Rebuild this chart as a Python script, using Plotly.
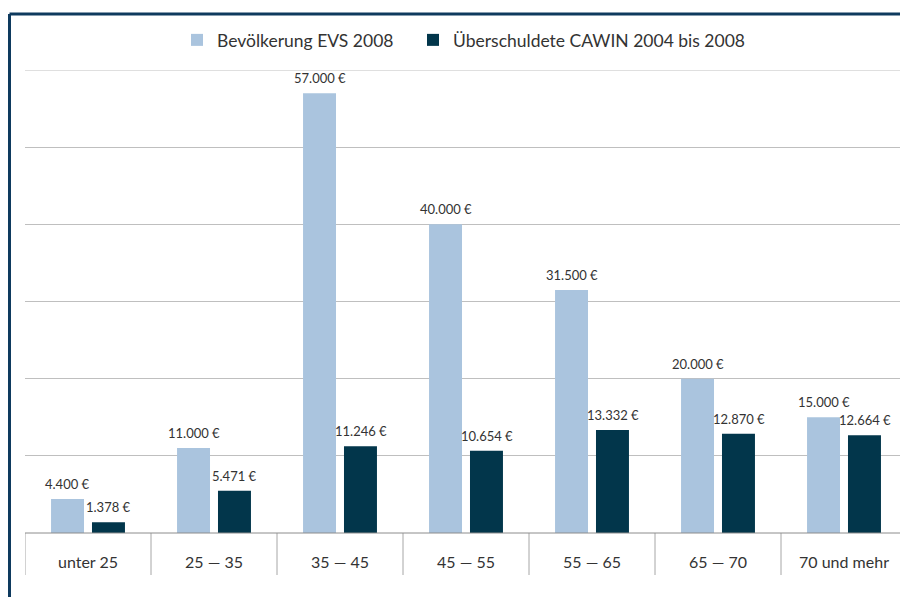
import plotly.graph_objects as go

categories = ["unter 25", "25 — 35", "35 — 45", "45 — 55", "55 — 65", "65 — 70", "70 und mehr"]
bevoelkerung = [4400, 11000, 57000, 40000, 31500, 20000, 15000]
ueberschuldete = [1378, 5471, 11246, 10654, 13332, 12870, 12664]
series_names = ["Bevölkerung EVS 2008", "Überschuldete CAWIN 2004 bis 2008"]


def fmt(v):
    return f"{v:,}".replace(",", ".") + " €"


LIGHT = "#aac4de"
DARK = "#02364b"
FONT = "Lato"

fig = go.Figure()
fig.add_trace(go.Bar(
    x=categories, y=bevoelkerung, name=series_names[0],
    marker=dict(color=LIGHT, line=dict(width=0)), legend="legend",
))
fig.add_trace(go.Bar(
    x=categories, y=ueberschuldete, name=series_names[1],
    marker=dict(color=DARK, line=dict(width=0)), legend="legend2",
))

# page has an 8px body margin, so work in screen pixels minus offset
O = 8
W, H = 908, 597
PL, PR, PT, PB = 25, 907, 70, 533  # plot area in screen pixels
L, R, T, B = PL - O, W - (PR - O), PT - O, H - (PB - O)
pw, ph = W - L - R, H - T - B


def px_x(p):
    return (p - O - L) / pw


def px_y(p):
    return (PB - p) / ph


annotations = []
for vals, shift in ((bevoelkerung, -20.5), (ueberschuldete, 20.5)):
    for c, v in zip(categories, vals):
        annotations.append(dict(x=c, y=v, xref="x", yref="y", text=fmt(v),
                                showarrow=False, xshift=shift, yshift=5,
                                yanchor="bottom", xanchor="center",
                                font=dict(size=13, color="#333333", family=FONT)))

shapes = []
# outer frame (top and left edges visible)
shapes.append(dict(type="line", xref="paper", yref="paper",
                   x0=px_x(9.5), x1=px_x(930), y0=px_y(14), y1=px_y(14),
                   line=dict(color="#0e3a5e", width=3)))
shapes.append(dict(type="line", xref="paper", yref="paper",
                   x0=px_x(9.5), x1=px_x(9.5), y0=px_y(14), y1=px_y(620),
                   line=dict(color="#0e3a5e", width=3)))
# top gridline (at range edge)
shapes.append(dict(type="line", xref="paper", yref="y",
                   x0=0, x1=1, y0=60000, y1=60000,
                   line=dict(color="#bfbfbf", width=1)))
# category cell separators
for i in range(len(categories) + 1):
    shapes.append(dict(type="line", xref="x", yref="paper",
                       x0=i - 0.5, x1=i - 0.5, y0=0, y1=px_y(575),
                       line=dict(color="#a6a6a6", width=1)))
# baseline
shapes.append(dict(type="line", xref="paper", yref="paper",
                   x0=0, x1=1, y0=0, y1=0,
                   line=dict(color="#8c8c8c", width=1)))

legend_common = dict(orientation="h", xanchor="left", y=px_y(40), yanchor="middle",
                     font=dict(size=17.5, color="#333333", family=FONT),
                     bgcolor="rgba(0,0,0,0)")

fig.update_layout(
    width=W, height=H,
    margin=dict(l=L, r=R, t=T, b=B, pad=0, autoexpand=False),
    paper_bgcolor="white", plot_bgcolor="white",
    barmode="group", bargap=0.35, bargroupgap=0.195,
    font=dict(family=FONT, color="#333333"),
    showlegend=True,
    legend=dict(x=px_x(177), **legend_common),
    legend2=dict(x=px_x(413), **legend_common),
    xaxis=dict(showgrid=False, showline=False, zeroline=False, ticks="",
               tickfont=dict(size=16, color="#333333", family=FONT),
               ticklabelstandoff=18, range=[-0.5, 6.5], automargin=False),
    yaxis=dict(range=[0, 60000], dtick=10000, showticklabels=False,
               showgrid=True, gridcolor="#bfbfbf", gridwidth=1, zeroline=False,
               showline=False, automargin=False),
    annotations=annotations,
    shapes=shapes,
)

fig.write_html("out.html")
